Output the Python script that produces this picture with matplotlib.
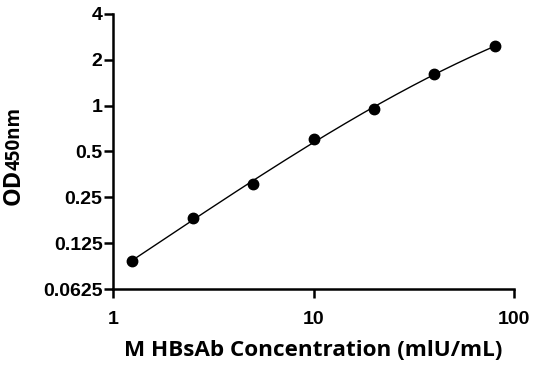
import numpy as np
import matplotlib.pyplot as plt

# standard curve readings
conc = [1.25, 2.5, 5, 10, 20, 40, 80]
od = [0.096, 0.182, 0.306, 0.605, 0.948, 1.62, 2.45]
yticks = [0.0625, 0.125, 0.25, 0.5, 1, 2, 4]
ytick_labels = ["0.0625", "0.125", "0.25", "0.5", "1", "2", "4"]
xticks = [1, 10, 100]
xtick_labels = ["1", "10", "100"]

fig = plt.figure(figsize=(5.36, 3.71), dpi=100)
ax = fig.add_axes([0.2108, 0.221, 0.7482, 0.7413])

# smooth fitted curve through the standards (cubic in log-log space)
lx = np.log10(conc)
ly = np.log2(od)
coef = np.polyfit(lx, ly, 3)
xs = np.linspace(lx[0], lx[-1], 200)
ax.plot(10 ** xs, 2 ** np.polyval(coef, xs), color="black", lw=1.0, zorder=2)
ax.plot(conc, od, "o", color="black", ms=7.5, zorder=3)

ax.set_xscale("log")
ax.set_yscale("log", base=2)
ax.set_xlim(1, 100)
ax.set_ylim(0.0625, 4)
ax.set_xticks(xticks)
ax.set_xticklabels(xtick_labels)
ax.set_yticks(yticks)
ax.set_yticklabels(ytick_labels)
ax.minorticks_off()

for s in ["top", "right"]:
    ax.spines[s].set_visible(False)
for s in ["left", "bottom"]:
    ax.spines[s].set_linewidth(1.8)
ax.tick_params(width=1.8, length=6.5)
ax.tick_params(axis="x", pad=9)
ax.tick_params(axis="y", pad=1)
for lab in ax.get_xticklabels() + ax.get_yticklabels():
    lab.set_fontfamily("Liberation Sans")
    lab.set_fontweight("bold")
    lab.set_fontsize(14)

ax.set_xlabel("M HBsAb Concentration (mlU/mL)", fontfamily="Open Sans",
              fontweight="bold", fontsize=16.2, labelpad=9)

# y label: "OD" followed by a smaller "450nm"
t1 = fig.text(0.026, 0.447, "OD", rotation=90, ha="center", va="bottom",
              fontfamily="Open Sans", fontweight="bold", fontsize=17)
fig.canvas.draw()
bb = t1.get_window_extent().transformed(fig.transFigure.inverted())
fig.text(0.028, bb.y1 - 0.004, "450nm", rotation=90, ha="center", va="bottom",
         fontfamily="Open Sans", fontweight="bold", fontsize=13.5)

fig.savefig("out.png", dpi=100)
